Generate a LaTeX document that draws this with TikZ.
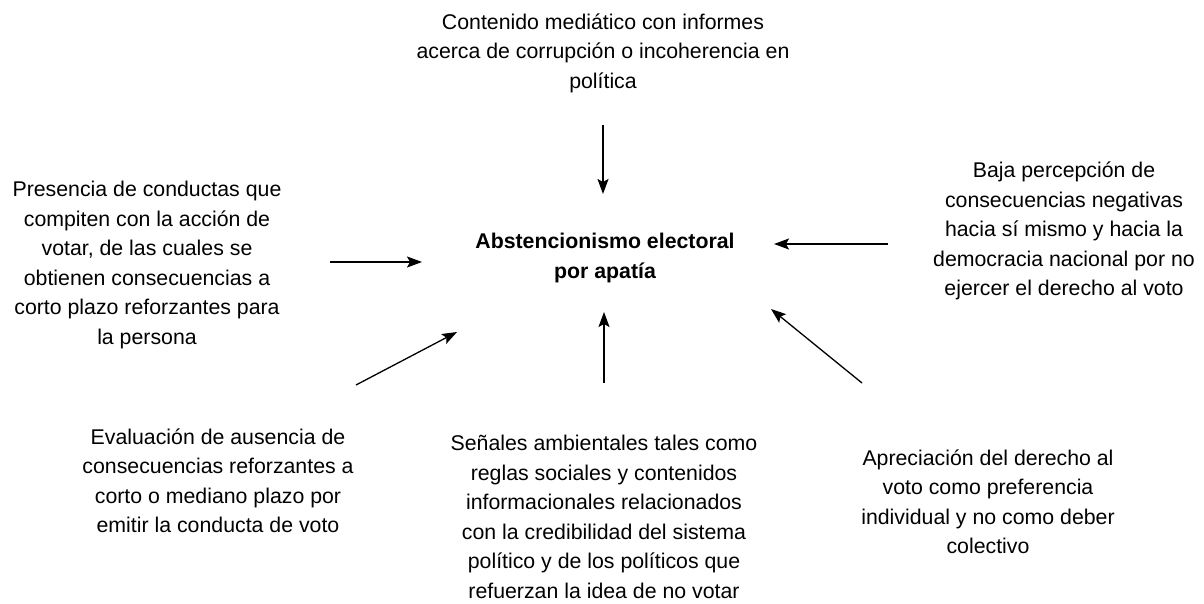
\documentclass[tikz,border=0pt]{standalone}
\usepackage{fontspec}
\setmainfont{Liberation Sans}
\usetikzlibrary{arrows.meta}
\begin{document}
\begin{tikzpicture}[x=1pt,y=-1pt,
  txt/.style={align=center,inner sep=0pt,font=\fontsize{21.3}{29.5}\selectfont},
  ctr/.style={txt,font=\fontsize{21.3}{29.5}\selectfont\bfseries},
  arr/.style={draw=black,line width=1.3pt,-{Stealth[length=15pt,width=11pt,inset=3pt]}}]
\useasboundingbox (0,0) rectangle (1204,604);
\node[txt] (top) at (603,53) {Contenido mediático con informes\\acerca de corrupción o incoherencia en\\política};
\node[txt] (left) at (147,265) {Presencia de conductas que\\compiten con la acción de\\votar, de las cuales se\\obtienen consecuencias a\\corto plazo reforzantes para\\la persona};
\node[txt] (right) at (1064,231) {Baja percepción de\\consecuencias negativas\\hacia sí mismo y hacia la\\democracia nacional por no\\ejercer el derecho al voto};
\node[ctr] (main) at (605,258) {Abstencionismo electoral\\por apatía};
\node[txt] (bl) at (218,481) {Evaluación de ausencia de\\consecuencias reforzantes a\\corto o mediano plazo por\\emitir la conducta de voto};
\node[txt] (bc) at (604,517) {Señales ambientales tales como\\reglas sociales y contenidos\\informacionales relacionados\\con la credibilidad del sistema\\político y de los políticos que\\refuerzan la idea de no votar};
\node[txt] (br) at (988,502) {Apreciación del derecho al\\voto como preferencia\\individual y no como deber\\colectivo};
\coordinate (a1s) at (603,125); \coordinate (a1e) at (603,194);
\coordinate (a2s) at (330,262); \coordinate (a2e) at (422,262);
\coordinate (a3s) at (888,244); \coordinate (a3e) at (774,244);
\coordinate (a4s) at (356,385); \coordinate (a4e) at (457,332);
\coordinate (a5s) at (604,383); \coordinate (a5e) at (604,312);
\coordinate (a6s) at (862,383); \coordinate (a6e) at (771,309);
\draw[arr] (a1s) -- (a1e);
\draw[arr] (a2s) -- (a2e);
\draw[arr] (a3s) -- (a3e);
\draw[arr] (a4s) -- (a4e);
\draw[arr] (a5s) -- (a5e);
\draw[arr] (a6s) -- (a6e);
\end{tikzpicture}
\end{document}
